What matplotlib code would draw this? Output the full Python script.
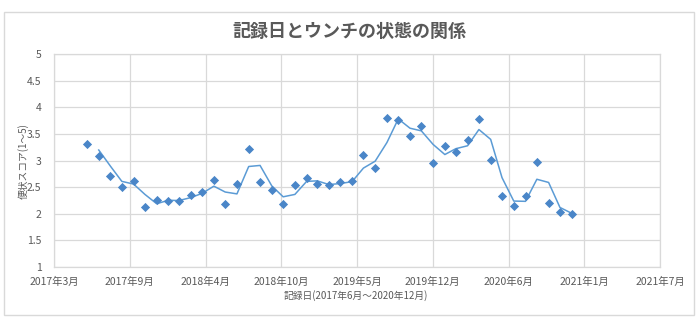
import matplotlib
matplotlib.use("Agg")
import matplotlib.pyplot as plt
import matplotlib.dates as mdates
import numpy as np
import pandas as pd
from matplotlib.patches import Rectangle

plt.rcParams['font.family'] = ['Noto Sans CJK JP', 'DejaVu Sans']

# ---- data ----
dates = pd.date_range('2017-06-10', periods=43, freq='MS') + pd.Timedelta(days=9)
scores = [3.32, 3.08, 2.71, 2.51, 2.61, 2.12, 2.26, 2.25, 2.25, 2.36,
          2.41, 2.63, 2.19, 2.56, 3.22, 2.60, 2.45, 2.19, 2.54, 2.68,
          2.56, 2.54, 2.60, 2.61, 3.11, 2.87, 3.81, 3.76, 3.46, 3.66,
          2.95, 3.28, 3.17, 3.39, 3.78, 3.02, 2.34, 2.14, 2.33, 2.97,
          2.21, 2.03, 1.99]
x_tick_labels = ['2017年3月', '2017年9月', '2018年4月', '2018年10月', '2019年5月',
                 '2019年12月', '2020年6月', '2021年1月', '2021年7月']
y_ticks = [1, 1.5, 2, 2.5, 3, 3.5, 4, 4.5, 5]
y_tick_labels = ['1', '1.5', '2', '2.5', '3', '3.5', '4', '4.5', '5']
title = '記録日とウンチの状態の関係'
x_label = '記録日(2017年6月〜2020年12月)'
y_label = '便状スコア(1〜5)'

# 2-period moving average (Excel trendline)
s = pd.Series(scores)
ma = s.rolling(2).mean()

gray = '#595959'
grid = '#D9D9D9'

fig = plt.figure(figsize=(7, 3.3), dpi=100)
# chart border
fig.patches.append(Rectangle((4/700, 1 - 315/330), 690/700, 303/330,
                             transform=fig.transFigure, fill=False,
                             edgecolor='#D9D9D9', linewidth=1))

ax = fig.add_axes([54/700, 1 - 267/330, 606/700, (267 - 54.3)/330])

xnum = mdates.date2num(dates)
unit = (xnum[-1] - xnum[0]) / (571.7 - 87) * 75.75
x0 = xnum[0] - (87 - 54) / 75.75 * unit
ticks = [x0 + k * unit for k in range(9)]
ax.set_xlim(ticks[0], ticks[-1])
ax.set_ylim(1, 5)

ax.plot(xnum, ma, color='#5B9BD5', linewidth=1.1, zorder=3)
ax.scatter(xnum, scores, marker='D', s=22, color='#4A86C8', zorder=4, linewidths=0)

ax.set_xticks(ticks)
ax.set_xticklabels(x_tick_labels, fontsize=7.5, color=gray)
ax.set_yticks(y_ticks)
ax.set_yticklabels(y_tick_labels, fontsize=7.5, color=gray)
ax.tick_params(axis='both', length=0)
ax.tick_params(axis='x', pad=7)
ax.tick_params(axis='y', pad=9)
ax.grid(True, color=grid, linewidth=0.9)
ax.set_axisbelow(True)
for sp in ax.spines.values():
    sp.set_color(grid)
    sp.set_linewidth(0.9)

fig.text(349/700, 1 - 31/330, title, ha='center', va='center', fontsize=13,
         fontweight='bold', color=gray)
fig.text(356/700, 1 - 296/330, x_label, ha='center', va='center', fontsize=7, color=gray)
fig.text(23/700, 1 - 161/330, y_label, ha='center', va='center', fontsize=7,
         color=gray, rotation=90)

fig.savefig('out.png', dpi=100)
